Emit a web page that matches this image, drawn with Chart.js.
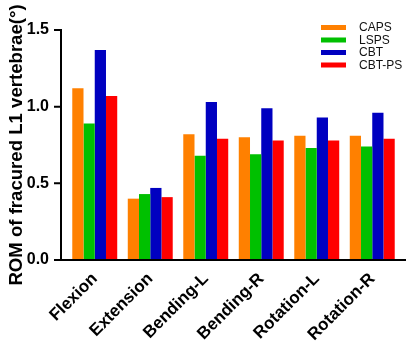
<!DOCTYPE html>
<html>
<head>
<meta charset="utf-8">
<script src="https://cdn.jsdelivr.net/npm/chart.js@4"></script>
<style>
  html, body { margin: 0; padding: 0; background: #ffffff; }
  #c { display: block; }
</style>
</head>
<body>
<canvas id="c" width="408" height="346"></canvas>
<script>
// ---- data ----
const categories = ['Flexion', 'Extension', 'Bending-L', 'Bending-R', 'Rotation-L', 'Rotation-R'];
const seriesNames = ['CAPS', 'LSPS', 'CBT', 'CBT-PS'];
const capsValues  = [1.12, 0.40, 0.82, 0.80, 0.81, 0.81];
const lspsValues  = [0.89, 0.43, 0.68, 0.69, 0.73, 0.74];
const cbtValues   = [1.37, 0.47, 1.03, 0.99, 0.93, 0.96];
const cbtpsValues = [1.07, 0.41, 0.79, 0.78, 0.78, 0.79];
const yTickValues = [0.0, 0.5, 1.0, 1.5];
const yTitle = 'ROM of fracured L1 vertebrae(°)';

const colors = ['#FF8000', '#00C000', '#0000C0', '#FF0000'];
const allValues = [capsValues, lspsValues, cbtValues, cbtpsValues];

const FONT = "'Liberation Sans', Arial, Helvetica, sans-serif";

const axesPlugin = {
  id: 'customAxes',
  afterDraw(chart) {
    const { ctx, chartArea, scales } = chart;
    const y = scales.y;
    const ax = chartArea.left - 6;
    const y0 = y.getPixelForValue(0);
    const yTop = y.getPixelForValue(yTickValues[yTickValues.length - 1]);
    ctx.save();
    ctx.strokeStyle = '#000';
    ctx.lineWidth = 2;
    ctx.beginPath();
    ctx.moveTo(ax, yTop - 1);
    ctx.lineTo(ax, y0);
    ctx.moveTo(ax - 1, y0);
    ctx.lineTo(chartArea.right + 6, y0);
    yTickValues.forEach(v => {
      const py = y.getPixelForValue(v);
      ctx.moveTo(ax - 7, py);
      ctx.lineTo(ax, py);
    });
    ctx.stroke();

    // legend
    ctx.font = '12px ' + FONT;
    ctx.textBaseline = 'middle';
    ctx.textAlign = 'left';
    chart.data.datasets.forEach((ds, i) => {
      const cy = 27.5 + i * 12.5;
      ctx.fillStyle = ds.backgroundColor;
      ctx.fillRect(321, cy - 2.5, 25, 5);
      ctx.fillStyle = '#111';
      ctx.fillText(ds.label, 359, cy + 0.5);
    });
    ctx.restore();
  }
};

new Chart(document.getElementById('c'), {
  type: 'bar',
  data: {
    labels: categories,
    datasets: seriesNames.map((name, i) => ({
      label: name,
      data: allValues[i],
      backgroundColor: colors[i],
      borderWidth: 0,
      barPercentage: 1.0,
      categoryPercentage: 0.81
    }))
  },
  options: {
    responsive: false,
    animation: false,
    devicePixelRatio: 1,
    layout: { padding: { top: 30, right: 8, left: 0, bottom: 0 } },
    plugins: {
      legend: { display: false },
      tooltip: { enabled: false }
    },
    scales: {
      x: {
        offset: true,
        grid: { display: false, drawTicks: false },
        border: { display: false },
        ticks: {
          color: '#000',
          font: { family: FONT, size: 17, weight: 'bold' },
          maxRotation: 45,
          minRotation: 45,
          padding: 9,
          autoSkip: false
        },
        afterFit(scale) { scale.height = 86; }
      },
      y: {
        min: 0,
        max: 1.5,
        afterBuildTicks(scale) { scale.ticks = yTickValues.map(v => ({ value: v })); },
        grid: { display: false, drawTicks: false },
        border: { display: false },
        ticks: {
          color: '#000',
          font: { family: FONT, size: 16, weight: 'bold' },
          padding: 18,
          callback: v => v.toFixed(1)
        },
        title: {
          display: true,
          text: yTitle,
          color: '#000',
          font: { family: FONT, size: 18.6, weight: 'bold' },
          padding: { top: 6, bottom: 0 }
        },
        afterFit(scale) { scale.width = 67; }
      }
    }
  },
  plugins: [axesPlugin]
});
</script>
</body>
</html>
